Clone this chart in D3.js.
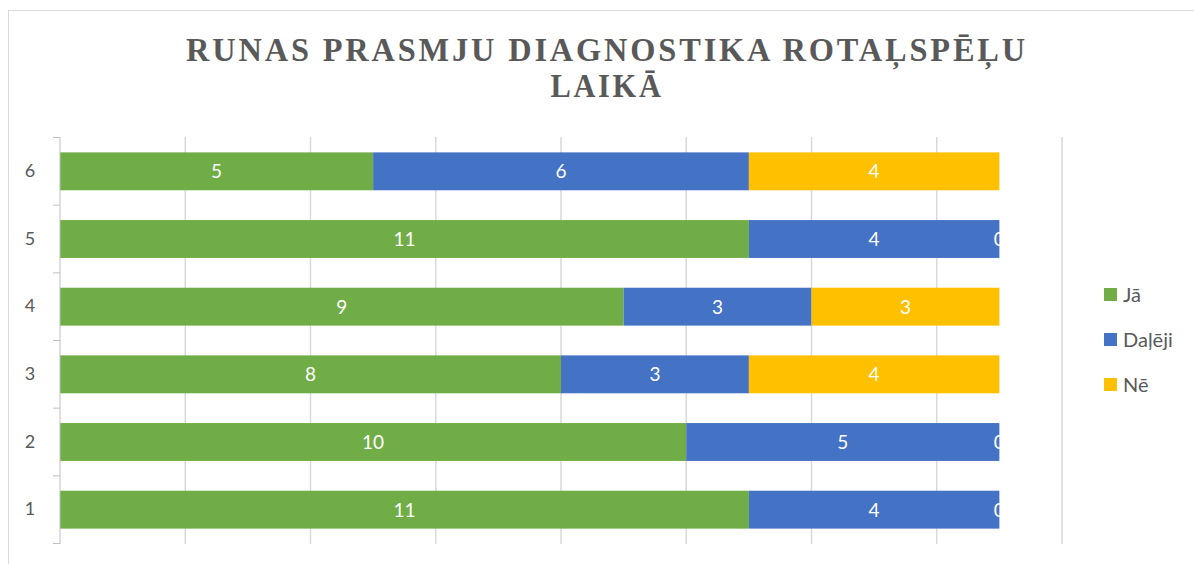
<!DOCTYPE html>
<html>
<head>
<meta charset="utf-8">
<script src="https://cdn.jsdelivr.net/npm/d3@7"></script>
<style>
  body { margin: 0; background: #fff; }
  svg { display: block; }
</style>
</head>
<body>
<div id="chart"></div>
<script>
var width = 1194;
var height = 564;

// data
var categories = ["1", "2", "3", "4", "5", "6"];
var seriesNames = ["Jā", "Daļēji", "Nē"];
var colors = ["#70AD47", "#4472C4", "#FFC000"];
var ja =     [11, 10, 8, 9, 11, 5];
var daleji = [4, 5, 3, 3, 4, 6];
var ne =     [0, 0, 4, 3, 0, 4];
var xTicks = [0, 2, 4, 6, 8, 10, 12, 14, 16];
var titleLines = ["RUNAS PRASMJU DIAGNOSTIKA ROTAĻSPĒĻU", "LAIKĀ"];

var rows = categories.map(function(c, i) {
    return { cat: c, "Jā": ja[i], "Daļēji": daleji[i], "Nē": ne[i] };
});

var svg = d3.select("#chart")
    .append("svg")
    .attr("width", width)
    .attr("height", height);

// chart border
svg.append("rect")
    .attr("x", 8.5).attr("y", 10.5)
    .attr("width", 1200).attr("height", 570)
    .attr("fill", "none")
    .attr("stroke", "#d9d9d9");

// title
var titleY = [61, 97];
var titleW = [842, 113];
titleLines.forEach(function(t, i) {
    svg.append("text")
        .attr("x", 607)
        .attr("y", titleY[i])
        .attr("text-anchor", "middle")
        .attr("font-family", "'Liberation Serif', 'Times New Roman', serif")
        .attr("font-weight", "bold")
        .attr("font-size", 34)
        .attr("letter-spacing", 3)
        .attr("fill", "#595959")
        .attr("textLength", titleW[i])
        .attr("lengthAdjust", "spacingAndGlyphs")
        .text(t);
});

var x = d3.scaleLinear().domain([0, 16]).range([60, 1062]);
var y = d3.scaleBand()
    .domain(categories)
    .range([543.5, 137.5])
    .paddingInner(0.44)
    .paddingOuter(0.22);

// gridlines
svg.append("g")
    .selectAll("line")
    .data(xTicks.slice(1))
    .enter()
    .append("line")
    .attr("x1", function(d) { return x(d); })
    .attr("x2", function(d) { return x(d); })
    .attr("y1", 137)
    .attr("y2", 544)
    .attr("stroke", "#d9d9d9")
    .attr("stroke-width", 1.5);

// stacked bars
var stack = d3.stack().keys(seriesNames);
var stacked = stack(rows);

var layers = svg.append("g")
    .selectAll("g")
    .data(stacked)
    .enter()
    .append("g")
    .attr("fill", function(d, i) { return colors[i]; });

layers.selectAll("rect")
    .data(function(d) { return d; })
    .enter()
    .append("rect")
    .attr("x", function(d) { return x(d[0]); })
    .attr("y", function(d) { return y(d.data.cat); })
    .attr("width", function(d) { return x(d[1]) - x(d[0]); })
    .attr("height", y.bandwidth());

// data labels
layers.selectAll("text")
    .data(function(d) { return d; })
    .enter()
    .append("text")
    .attr("x", function(d) { return (x(d[0]) + x(d[1])) / 2; })
    .attr("y", function(d) { return y(d.data.cat) + y.bandwidth() / 2; })
    .attr("dy", "0.36em")
    .attr("text-anchor", "middle")
    .attr("font-family", "Lato, 'Open Sans', sans-serif")
    .attr("font-size", 19)
    .attr("fill", "#fff")
    .text(function(d) { return d[1] - d[0]; });

// y axis
var yAxis = d3.axisLeft(y).tickSize(0).tickPadding(24);
var yg = svg.append("g")
    .attr("transform", "translate(60,0)")
    .call(yAxis);
yg.select(".domain").attr("stroke", "#bfbfbf").attr("d", "M0,137V544");
yg.selectAll("text")
    .attr("font-family", "Lato, 'Open Sans', sans-serif")
    .attr("font-size", 18)
    .attr("fill", "#595959")
    .attr("text-anchor", "middle")
    .attr("dx", "-6");

// category boundary ticks
var bounds = categories.map(function(c) { return y(c) - y.step() * y.paddingInner() / 2; });
bounds.push(y(categories[0]) + y.bandwidth() + y.step() * y.paddingInner() / 2);
svg.append("g")
    .selectAll("line")
    .data(bounds)
    .enter()
    .append("line")
    .attr("x1", 53).attr("x2", 60)
    .attr("y1", function(d) { return d; })
    .attr("y2", function(d) { return d; })
    .attr("stroke", "#bfbfbf");

// legend
var legendY = [295, 340, 385];
var legend = svg.append("g")
    .selectAll("g")
    .data(seriesNames)
    .enter()
    .append("g")
    .attr("transform", function(d, i) { return "translate(1104," + legendY[i] + ")"; });

legend.append("rect")
    .attr("x", 0).attr("y", -7)
    .attr("width", 13).attr("height", 13)
    .attr("fill", function(d, i) { return colors[i]; });

legend.append("text")
    .attr("x", 19)
    .attr("y", 0)
    .attr("dy", "0.36em")
    .attr("font-family", "Lato, 'Open Sans', sans-serif")
    .attr("font-size", 20)
    .attr("fill", "#595959")
    .text(function(d) { return d; });
</script>
</body>
</html>
